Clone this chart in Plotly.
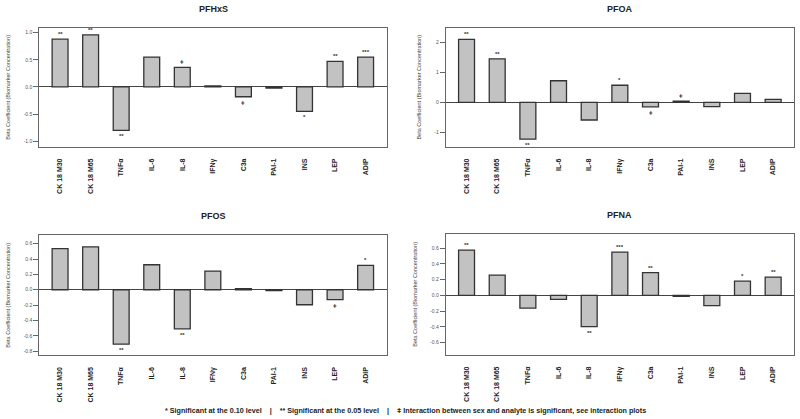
import plotly.graph_objects as go

categories = ["CK 18 M30", "CK 18 M65", "TNFα", "IL-6", "IL-8", "IFNγ", "C3a", "PAI-1", "INS", "LEP", "ADIP"]

pfhxs = [0.88, 0.96, -0.80, 0.55, 0.36, 0.02, -0.18, -0.02, -0.45, 0.47, 0.55]
pfoa = [2.10, 1.45, -1.23, 0.72, -0.59, 0.57, -0.15, 0.04, -0.14, 0.30, 0.10]
pfos = [0.535, 0.56, -0.71, 0.326, -0.51, 0.243, 0.013, -0.01, -0.196, -0.13, 0.317]
pfna = [0.576, 0.258, -0.161, -0.05, -0.398, 0.55, 0.29, -0.013, -0.13, 0.18, 0.233]

sig_pfhxs = ["**", "**", "**", "", "ǂ", "", "ǂ", "", "*", "**", "***"]
sig_pfoa = ["**", "**", "**", "", "", "*", "ǂ", "ǂ", "", "", ""]
sig_pfos = ["", "", "**", "", "**", "", "", "", "", "ǂ", "*"]
sig_pfna = ["**", "", "", "", "**", "***", "**", "", "", "*", "**"]

titles = ["PFHxS", "PFOA", "PFOS", "PFNA"]
y_ticks = [[1.0, 0.5, 0.0, -0.5, -1.0], [2, 1, 0, -1],
           [0.6, 0.4, 0.2, 0.0, -0.2, -0.4, -0.6, -0.8],
           [0.6, 0.4, 0.2, 0.0, -0.2, -0.4, -0.6]]
y_ranges = [[-1.10, 1.086], [-1.48, 2.49], [-0.855, 0.71], [-0.754, 0.78]]

series = [pfhxs, pfoa, pfos, pfna]
sigs = [sig_pfhxs, sig_pfoa, sig_pfos, sig_pfna]

W, H = 800, 419
xdom = [[39.3 / W, 386.7 / W], [445.7 / W, 794.3 / W], [39.3 / W, 386.7 / W], [445.7 / W, 794.3 / W]]
ydom = [[1 - 146.7 / H, 1 - 28 / H], [1 - 146.7 / H, 1 - 27.7 / H],
        [1 - 355.3 / H, 1 - 235.3 / H], [1 - 354.7 / H, 1 - 234 / H]]

FONT = "Liberation Sans, Arial, sans-serif"
fig = go.Figure()
annotations = []
layout = {}

for i in range(4):
    n = "" if i == 0 else str(i + 1)
    xa, ya = "x" + n, "y" + n
    fig.add_trace(go.Bar(
        x=list(range(len(categories))), y=series[i], xaxis=xa, yaxis=ya,
        marker=dict(color="#c2c2c2", line=dict(color="#333333", width=1.3)),
        showlegend=False, hoverinfo="skip"))
    layout["xaxis" + n] = dict(
        domain=xdom[i], anchor=ya, range=[-0.68, 10.69], automargin=False,
        tickmode="array", tickvals=list(range(len(categories))),
        ticktext=["<b>%s</b>" % c for c in categories],
        tickangle=-90, tickfont=dict(family=FONT, size=7, color="#222"),
        showgrid=False, zeroline=False, showline=True, mirror=True,
        linecolor="#666", linewidth=1, ticks="", ticklabelstandoff=8)
    layout["yaxis" + n] = dict(
        domain=ydom[i], anchor=xa, range=y_ranges[i], automargin=False,
        tickmode="array", tickvals=y_ticks[i],
        ticktext=[("%g" % v if i == 1 else "%.1f" % v) for v in y_ticks[i]],
        tickfont=dict(family=FONT, size=5, color="#555"),
        showgrid=False, zeroline=True, zerolinecolor="#444", zerolinewidth=1,
        showline=True, mirror=True, linecolor="#666", linewidth=1,
        ticks="outside", ticklen=5, tickcolor="#666",
        title=dict(text="Beta Coefficient (Biomarker Concentration)",
                   font=dict(family=FONT, size=5.5, color="#444"), standoff=12))
    annotations.append(dict(
        text="<b>%s</b>" % titles[i], xref="paper", yref="paper",
        x=(xdom[i][0] + xdom[i][1]) / 2, y=ydom[i][1] + 19 / H,
        showarrow=False, font=dict(family=FONT, size=9, color="#222"),
        xanchor="center", yanchor="middle"))
    for j, s in enumerate(sigs[i]):
        if not s:
            continue
        v = series[i][j]
        annotations.append(dict(
            text="<b>%s</b>" % s, xref=xa, yref=ya, x=j, y=v,
            showarrow=False, font=dict(family=FONT, size=6, color="#333"),
            xanchor="center", yanchor="bottom" if v >= 0 else "top",
            yshift=0 if v >= 0 else -1))

annotations.append(dict(
    text="<b>* Significant at the 0.10 level    |    ** Significant at the 0.05 level    |    ǂ Interaction between sex and analyte is significant, see interaction plots</b>",
    xref="paper", yref="paper", x=405 / W, y=1 - 410 / H, showarrow=False,
    font=dict(family=FONT, size=7.2, color="#222"), xanchor="center", yanchor="middle"))

fig.update_layout(
    width=W, height=H, margin=dict(l=0, r=0, t=0, b=0, autoexpand=False),
    paper_bgcolor="white", plot_bgcolor="white",
    bargap=0.48, annotations=annotations, **layout)

fig.write_html("out.html", config={"displayModeBar": False},
               post_script="document.body.style.margin='0';")
